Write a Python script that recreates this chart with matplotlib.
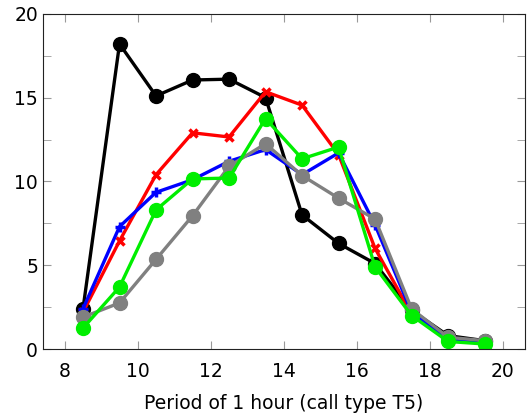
import numpy as np
import matplotlib.pyplot as plt

hours = [8.5, 9.5, 10.5, 11.5, 12.5, 13.5, 14.5, 15.5, 16.5, 17.5, 18.5, 19.5]

black = [2.4, 18.2, 15.1, 16.05, 16.1, 15.0, 8.0, 6.3, 5.1, 2.3, 0.8, 0.5]
red = [2.2, 6.45, 10.4, 12.9, 12.65, 15.35, 14.55, 11.6, 6.0, 2.1, 0.6, 0.4]
blue = [2.4, 7.3, 9.35, 10.1, 11.2, 11.9, 10.4, 11.7, 7.4, 2.2, 0.6, 0.4]
gray = [1.9, 2.75, 5.35, 7.95, 10.9, 12.25, 10.35, 9.0, 7.75, 2.4, 0.7, 0.5]
green = [1.25, 3.7, 8.3, 10.15, 10.2, 13.75, 11.35, 12.05, 4.9, 2.0, 0.45, 0.3]

fig = plt.figure(figsize=(5.29, 4.18), dpi=100)
ax = fig.add_axes([0.081, 0.165, 0.911, 0.802])

lw = 2.4
ax.plot(hours, black, color='black', lw=lw, marker='o', ms=10)
ax.plot(hours, red, color='red', lw=lw, marker='x', ms=6, mew=2.5)
ax.plot(hours, blue, color='blue', lw=lw, marker='+', ms=7, mew=2.5)
ax.plot(hours, gray, color='gray', lw=lw, marker='o', ms=10)
ax.plot(hours, green, color='#00ee00', lw=lw, marker='o', ms=10)

ax.set_xlim(7.4, 20.6)
ax.set_ylim(0, 20)
ax.set_xticks([8, 10, 12, 14, 16, 18, 20])
ax.set_yticks([0, 5, 10, 15, 20])
ax.set_yticks([2.5, 7.5, 12.5, 17.5], minor=True)
ax.tick_params(which='both', direction='in', top=True, right=True,
               color='#999999', length=6, labelsize=13.5)
ax.tick_params(axis='x', pad=9)
ax.set_xlabel('Period of 1 hour (call type T5)', fontsize=13.5, labelpad=10)
for s in ax.spines.values():
    s.set_color('#222222')

plt.savefig('out.png', dpi=100)
